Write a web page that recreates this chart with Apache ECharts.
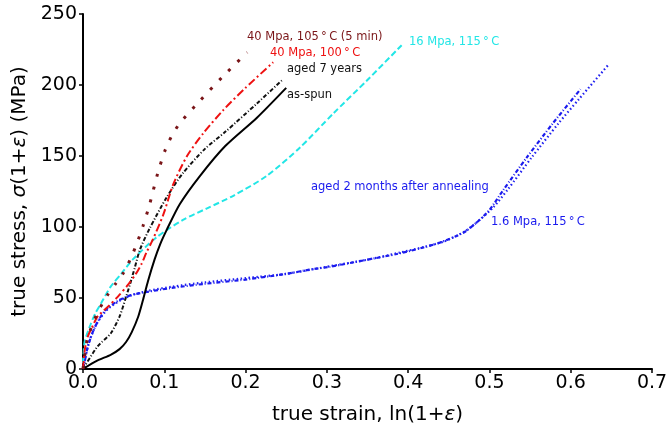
<!DOCTYPE html>
<html>
<head>
<meta charset="utf-8">
<script src="https://cdn.jsdelivr.net/npm/echarts@6/dist/echarts.min.js"></script>
<style>
  html, body { margin: 0; padding: 0; background: #fff; }
  #chart { width: 671px; height: 432px; }
</style>
</head>
<body>
<div id="chart"></div>
<script>
// curves: [true strain, true stress (MPa)]
const asSpun = [[0,0],[0.018,6],[0.034,10],[0.045,14],[0.053,19],[0.06,26],[0.068,37],[0.074,49],[0.08,62],[0.088,77],[0.095,88],[0.103,98],[0.119,116],[0.144,136],[0.175,157],[0.214,177],[0.25,198]];
const aged7Years = [[0,0],[0.018,16],[0.034,25],[0.045,37],[0.052,49],[0.058,60],[0.064,72],[0.07,84],[0.082,99],[0.103,121],[0.123,138],[0.15,155],[0.175,167],[0.214,187],[0.246,204]];
const mpa40At100 = [[0,0],[0.002,13],[0.006,23],[0.01,28],[0.018,37],[0.031,44],[0.043,51],[0.055,59],[0.065,67],[0.072,74],[0.078,82],[0.085,90],[0.099,109],[0.111,130],[0.128,150],[0.148,166],[0.172,182],[0.2,198],[0.234,216]];
const mpa40At105 = [[0,0],[0.005,20],[0.012,32],[0.02,42],[0.03,52],[0.04,60],[0.05,68],[0.058,77],[0.066,88],[0.074,101],[0.082,116],[0.092,138],[0.101,154],[0.109,164],[0.119,173],[0.144,189],[0.172,206],[0.202,223]];
const mpa16At115 = [[0,4],[0.002,19],[0.009,31],[0.015,39],[0.022,46],[0.034,58],[0.047,67],[0.061,77],[0.091,93],[0.123,105],[0.152,113],[0.185,122],[0.226,136],[0.267,156],[0.308,180],[0.349,203],[0.392,228]];
const aged2Months = [[0,0],[0.002,5],[0.006,16],[0.015,30],[0.027,41],[0.043,48],[0.059,52],[0.076,54],[0.108,57],[0.15,60],[0.2,63],[0.25,67],[0.279,70],[0.304,72],[0.35,77],[0.386,81],[0.415,85],[0.439,89],[0.468,96],[0.484,103],[0.5,112],[0.517,126],[0.546,149],[0.578,173],[0.612,197]];
const mpa16At115b = [[0,0],[0.003,8],[0.008,20],[0.017,32],[0.03,42],[0.045,48],[0.06,52],[0.08,55],[0.11,58],[0.15,61],[0.2,64],[0.25,67],[0.3,72],[0.35,77],[0.39,82],[0.42,86],[0.445,90],[0.47,97],[0.488,105],[0.505,114],[0.522,126],[0.552,149],[0.585,173],[0.61,190],[0.646,214]];

const xTicks = [0, 0.1, 0.2, 0.3, 0.4, 0.5, 0.6, 0.7];
const yTicks = [0, 50, 100, 150, 200, 250];

const font = 'DejaVu Sans';
const chart = echarts.init(document.getElementById('chart'));

function curve(data, color, dash, width) {
  return {
    type: 'line',
    data: data,
    smooth: 0.25,
    symbol: 'none',
    lineStyle: { color: color, width: width || 2, type: dash },
    z: 3
  };
}

function label(text, left, top, color) {
  return {
    type: 'text',
    left: left,
    top: top,
    style: { text: text, fill: color, font: '11.5px "DejaVu Sans"' }
  };
}

const italic = { fontFamily: font, fontSize: 20, fontStyle: 'italic', color: '#000' };

const option = {
  backgroundColor: '#fff',
  animation: false,
  grid: { left: 83, right: 19, top: 14, bottom: 63 },
  xAxis: {
    type: 'value',
    min: xTicks[0],
    max: xTicks[xTicks.length - 1],
    interval: 0.1,
    name: 'true strain, ln(1+{i|ε})',
    nameLocation: 'middle',
    nameGap: 36,
    nameTextStyle: { fontFamily: font, fontSize: 20, color: '#000', rich: { i: italic } },
    axisLine: { lineStyle: { color: '#000', width: 2 } },
    axisTick: { show: true, length: 4, lineStyle: { color: '#000', width: 1.5 } },
    axisLabel: { fontFamily: font, fontSize: 19, color: '#000', margin: 5, formatter: v => v.toFixed(1) },
    splitLine: { show: false }
  },
  yAxis: {
    type: 'value',
    min: yTicks[0],
    max: yTicks[yTicks.length - 1],
    interval: 50,
    name: 'true stress, {i|σ}(1+{i|ε}) (MPa)',
    nameLocation: 'middle',
    nameGap: 50,
    nameTextStyle: { fontFamily: font, fontSize: 20, color: '#000', rich: { i: italic } },
    axisLine: { show: true, lineStyle: { color: '#000', width: 2 } },
    axisTick: { show: true, length: 4, lineStyle: { color: '#000', width: 1.5 } },
    axisLabel: { fontFamily: font, fontSize: 19, color: '#000', margin: 6 },
    splitLine: { show: false }
  },
  series: [
    curve(aged2Months, '#1a1aee', [4, 2, 1, 2], 2.2),
    curve(mpa16At115b, '#2020f0', [1.5, 2.5], 2.2),
    curve(mpa16At115, '#22e6e6', [6, 3], 2),
    curve(asSpun, '#000', 'solid', 2),
    curve(aged7Years, '#111', [4, 2, 1, 2], 2),
    curve(mpa40At100, '#ee1111', [8, 3, 2, 3], 2),
    curve(mpa40At105, '#7a1518', [3, 10], 3)
  ],
  graphic: [
    label('40 Mpa, 105\u2009°\u2009C (5 min)', 247, 31, '#7a1518'),
    label('40 Mpa, 100\u2009°\u2009C', 270, 47, '#ee1111'),
    label('aged 7 years', 287, 63, '#111'),
    label('as-spun', 287, 89, '#111'),
    label('16 Mpa, 115\u2009°\u2009C', 409, 36, '#22e6e6'),
    label('aged 2 months after annealing', 311, 181, '#1a1aee'),
    label('1.6 Mpa, 115\u2009°\u2009C', 491, 216, '#1a1aee')
  ]
};

chart.setOption(option);
</script>
</body>
</html>
